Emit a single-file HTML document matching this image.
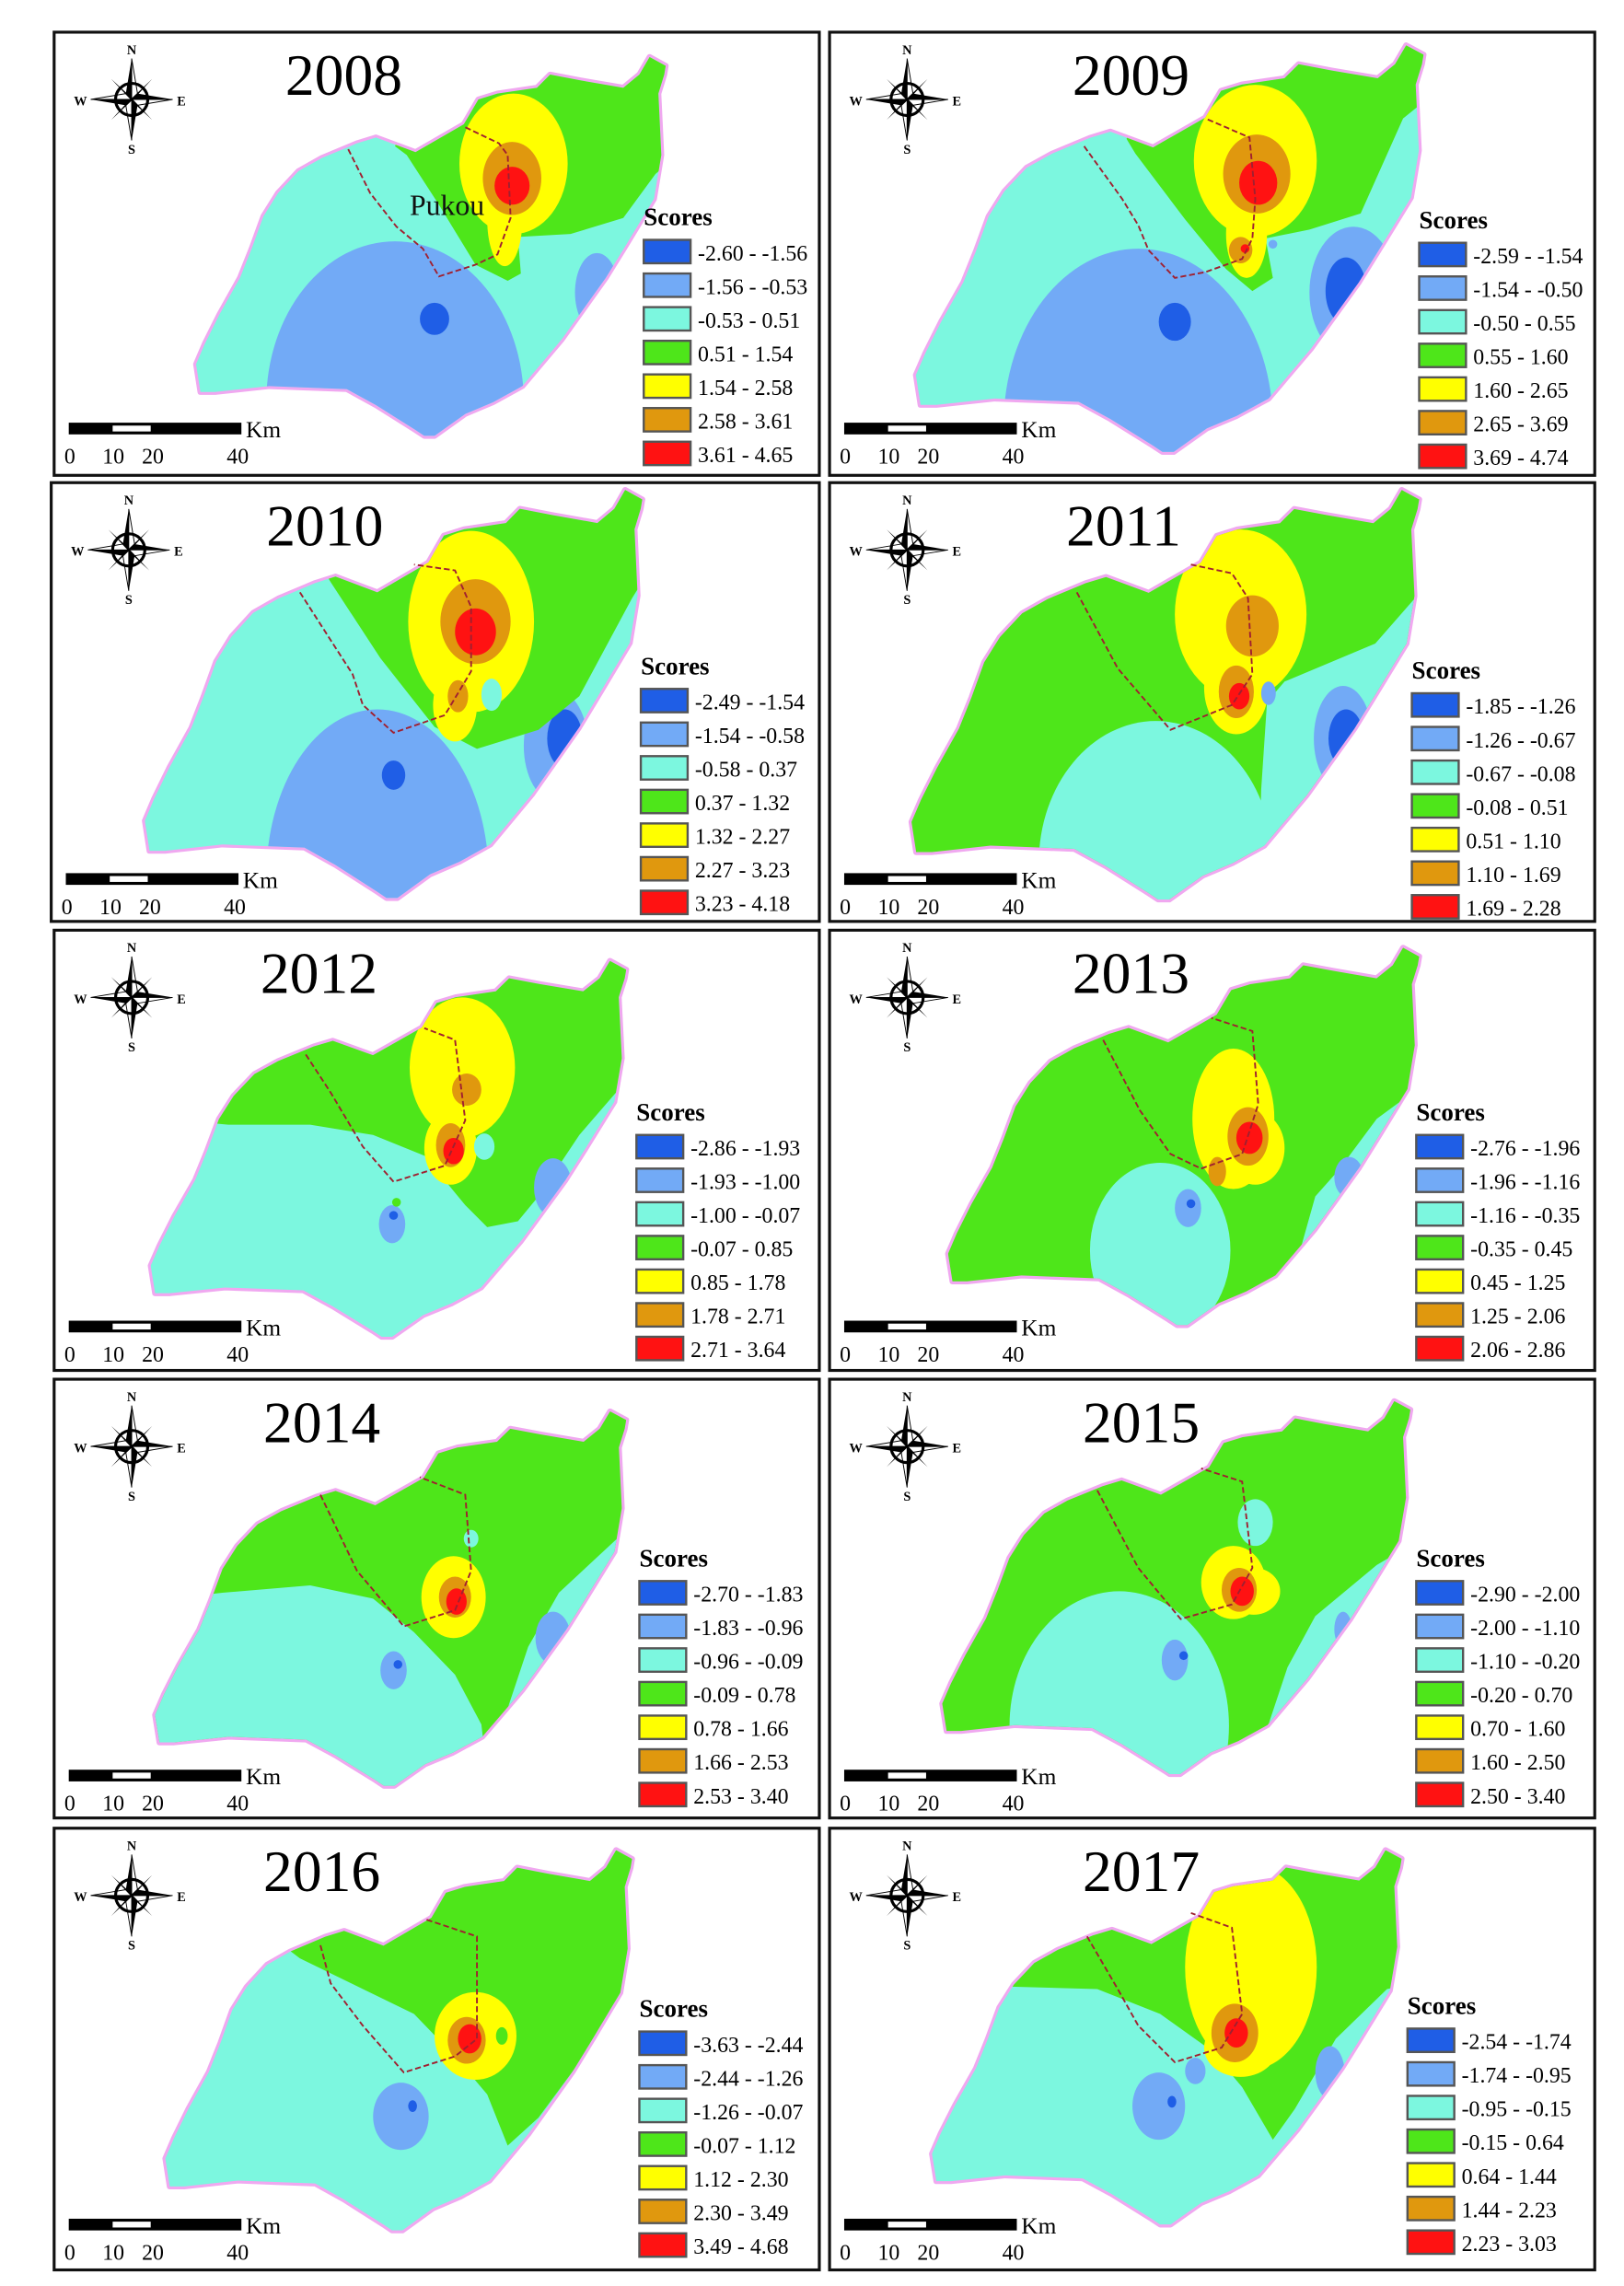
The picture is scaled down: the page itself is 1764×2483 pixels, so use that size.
<!DOCTYPE html>
<html><head><meta charset="utf-8">
<style>
html,body{margin:0;padding:0;background:#fff;}
svg{display:block;}
text{font-family:"Liberation Serif",serif;}
</style></head>
<body>
<svg id="fig" width="1764" height="2483" viewBox="0 0 1110 1563" preserveAspectRatio="none" xmlns="http://www.w3.org/2000/svg">
<defs id="defs"></defs>
</svg>
<script>
const years=["2008","2009","2010","2011","2012","2013","2014","2015","2016","2017"];
const legend2008=["-2.60 - -1.56","-1.56 - -0.53","-0.53 - 0.51","0.51 - 1.54","1.54 - 2.58","2.58 - 3.61","3.61 - 4.65"];
const legend2009=["-2.59 - -1.54","-1.54 - -0.50","-0.50 - 0.55","0.55 - 1.60","1.60 - 2.65","2.65 - 3.69","3.69 - 4.74"];
const legend2010=["-2.49 - -1.54","-1.54 - -0.58","-0.58 - 0.37","0.37 - 1.32","1.32 - 2.27","2.27 - 3.23","3.23 - 4.18"];
const legend2011=["-1.85 - -1.26","-1.26 - -0.67","-0.67 - -0.08","-0.08 - 0.51","0.51 - 1.10","1.10 - 1.69","1.69 - 2.28"];
const legend2012=["-2.86 - -1.93","-1.93 - -1.00","-1.00 - -0.07","-0.07 - 0.85","0.85 - 1.78","1.78 - 2.71","2.71 - 3.64"];
const legend2013=["-2.76 - -1.96","-1.96 - -1.16","-1.16 - -0.35","-0.35 - 0.45","0.45 - 1.25","1.25 - 2.06","2.06 - 2.86"];
const legend2014=["-2.70 - -1.83","-1.83 - -0.96","-0.96 - -0.09","-0.09 - 0.78","0.78 - 1.66","1.66 - 2.53","2.53 - 3.40"];
const legend2015=["-2.90 - -2.00","-2.00 - -1.10","-1.10 - -0.20","-0.20 - 0.70","0.70 - 1.60","1.60 - 2.50","2.50 - 3.40"];
const legend2016=["-3.63 - -2.44","-2.44 - -1.26","-1.26 - -0.07","-0.07 - 1.12","1.12 - 2.30","2.30 - 3.49","3.49 - 4.68"];
const legend2017=["-2.54 - -1.74","-1.74 - -0.95","-0.95 - -0.15","-0.15 - 0.64","0.64 - 1.44","1.44 - 2.23","2.23 - 3.03"];
const legends=[legend2008,legend2009,legend2010,legend2011,legend2012,legend2013,legend2014,legend2015,legend2016,legend2017];
const scaleLabels=["0","10","20","40"];
const C={db:"#1f5ee6",lb:"#72aaf6",cy:"#7cf7df",gr:"#4ee61a",ye:"#ffff00",or:"#e0980e",re:"#ff1212"};
const classColors=[C.db,C.lb,C.cy,C.gr,C.ye,C.or,C.re];

const outlineAbs=[[134,249],[137,268],[147,268],[184,264],[237,266],[257,277],[284,294],[290,298],[297,298],[318,283],[337,275],[357,264],[384,232],[414,190],[427,169],[447,136],[452,106],[450,64],[454,51],[455,45],[444,39],[437,51],[426,60],[397,55],[376,51],[367,60],[340,64],[327,68],[317,85],[284,104],[257,94],[244,98],[220,108],[204,117],[190,132],[180,148],[172,170],[164,190],[150,215],[140,235]];

const panels=[
 {x:37,y:22,w:523,h:303,bb:[134,39,321,259],tx:235,lx:440,ly:148,base:C.cy,pukou:[280,147],
  bd:"238,102 253,132 271,155 289,170 300,189 325,181 340,174 349,149 347,106 341,98 318,87",z:[
  ["e",C.lb,270,275,88,110],["e",C.db,297,218,10,11],["e",C.lb,408,200,15,27],
  ["p",C.gr,"270,100 278,106 300,140 325,181 347,192 356,187 354,162 390,160 426,149 448,119 470,100 470,20 300,20"],
  ["e",C.ye,351,112,37,48],["e",C.ye,345,150,12,32],["e",C.or,350,122,20,25],["e",C.re,350,127,12,13]]},
 {x:567,y:22,w:523,h:303,bb:[626,31,347,278],tx:773,lx:970,ly:150,base:C.cy,
  bd:"741,100 767,136 778,154 785,171 803,190 824,186 849,177 856,163 858,136 854,94 824,81",z:[
  ["e",C.lb,778,290,92,120],["e",C.db,803,220,11,13],["e",C.lb,925,200,30,45],["e",C.db,920,199,14,23],
  ["p",C.gr,"770,95 776,105 810,150 838,184 856,199 870,190 865,163 895,157 930,146 959,81 985,60 985,10 800,10"],
  ["e",C.ye,858,110,42,52],["e",C.ye,852,160,14,30],["e",C.or,859,119,23,27],["e",C.or,848,171,8,9],["e",C.re,860,125,13,15],["e",C.re,851,170,3,3],["e",C.lb,870,167,3,3]]},
 {x:35,y:330,w:525,h:300,bb:[99,335,340,279],tx:222,lx:438,ly:455,base:C.cy,
  bd:"205,405 241,461 248,482 269,501 304,489 322,459 322,415 311,390 283,386",z:[
  ["e",C.lb,258,600,76,115],["e",C.db,269,530,8,10],["e",C.lb,380,510,22,38],["e",C.db,386,505,12,20],
  ["p",C.gr,"215,380 226,398 260,450 297,497 326,512 368,499 396,476 432,409 450,380 450,320 300,320"],
  ["e",C.ye,322,425,43,62],["e",C.ye,311,482,15,25],["e",C.or,325,425,24,29],["e",C.or,313,476,7,11],["e",C.re,325,432,14,16],["e",C.cy,336,475,7,11]]},
 {x:567,y:330,w:523,h:300,bb:[623,335,347,280],tx:768,lx:965,ly:458,base:C.gr,
  bd:"736,405 764,457 800,499 842,482 856,461 853,409 842,392 814,386",z:[
  ["e",C.cy,790,590,80,97],
  ["p",C.cy,"975,400 940,440 878,466 866,480 862,540 860,620 990,620"],
  ["e",C.lb,918,505,20,36],["e",C.db,920,505,12,20],
  ["e",C.ye,848,420,45,58],["e",C.ye,845,470,22,32],["e",C.or,856,428,18,21],["e",C.or,845,473,12,18],["e",C.re,847,476,7,9],["e",C.lb,867,474,5,8]]},
 {x:37,y:636,w:523,h:301,bb:[103,657,325,257],tx:218,lx:435,ly:760,base:C.cy,
  bd:"209,721 226,747 248,784 269,808 304,797 318,766 311,711 290,703",z:[
  ["p",C.gr,"100,740 145,768 156,769 212,769 255,776 297,793 304,807 318,824 333,839 354,835 368,818 396,776 421,747 440,740 440,640 100,640"],
  ["e",C.lb,378,812,13,20],
  ["e",C.ye,316,730,36,48],["e",C.ye,308,785,18,25],["e",C.or,319,745,10,11],["e",C.or,308,783,10,15],["e",C.re,310,787,7,9],["e",C.cy,331,784,7,9],
  ["e",C.lb,268,837,9,13],["e",C.db,269,831,3,3],["e",C.gr,271,822,3,3]]},
 {x:567,y:636,w:523,h:301,bb:[648,648,322,258],tx:773,lx:968,ly:760,base:C.gr,
  bd:"754,711 779,759 800,789 821,799 849,789 860,755 856,705 828,696",z:[
  ["e",C.cy,793,855,48,60],
  ["p",C.cy,"975,740 941,765 915,800 899,818 890,850 880,880 878,920 985,920"],
  ["e",C.lb,922,805,10,14],["e",C.lb,812,826,9,13],["e",C.db,814,823,3,3],
  ["e",C.ye,843,765,28,48],["e",C.ye,858,785,20,25],["e",C.or,853,777,14,20],["e",C.or,832,801,6,10],["e",C.re,854,778,9,11]]},
 {x:37,y:943,w:523,h:300,bb:[106,965,322,256],tx:220,lx:437,ly:1065,base:C.gr,
  bd:"219,1022 244,1074 276,1112 311,1101 322,1074 318,1022 287,1010",z:[
  ["p",C.cy,"100,1095 152,1089 212,1084 255,1093 283,1116 311,1145 329,1179 335,1230 100,1230"],
  ["p",C.cy,"440,1040 425,1049 382,1089 361,1126 347,1168 340,1230 440,1230"],
  ["e",C.lb,378,1120,12,18],["e",C.lb,269,1142,9,13],["e",C.db,272,1138,3,3],
  ["e",C.ye,310,1092,22,28],["e",C.or,311,1092,11,14],["e",C.re,312,1095,7,9],["e",C.cy,322,1052,5,6]]},
 {x:567,y:943,w:523,h:300,bb:[644,958,320,255],tx:780,lx:968,ly:1065,base:C.gr,
  bd:"750,1019 778,1072 807,1107 842,1097 856,1072 849,1013 821,1004",z:[
  ["e",C.cy,765,1180,75,92],
  ["p",C.cy,"975,1050 941,1070 899,1105 880,1140 867,1179 865,1230 975,1230"],
  ["e",C.lb,918,1114,6,12],["e",C.lb,803,1135,9,14],["e",C.db,809,1132,3,3],
  ["e",C.cy,858,1041,12,16],
  ["e",C.ye,843,1082,22,25],["e",C.ye,857,1088,18,16],["e",C.or,847,1087,12,15],["e",C.re,849,1088,8,10]]},
 {x:37,y:1250,w:523,h:302,bb:[113,1265,319,260],tx:220,lx:437,ly:1373,base:C.cy,
  bd:"219,1330 226,1356 248,1385 276,1417 311,1406 326,1394 326,1324 290,1312",z:[
  ["p",C.gr,"180,1320 205,1339 283,1377 311,1406 333,1432 347,1467 368,1448 396,1410 432,1356 450,1350 450,1250 180,1250"],
  ["e",C.ye,325,1392,28,30],["e",C.or,319,1395,13,16],["e",C.re,321,1394,8,10],["e",C.gr,343,1392,4,6],
  ["e",C.lb,274,1447,19,23],["e",C.db,282,1440,3,4]]},
 {x:567,y:1250,w:523,h:302,bb:[637,1265,321,256],tx:780,lx:962,ly:1371,base:C.cy,
  bd:"743,1324 764,1360 778,1385 803,1410 835,1400 849,1377 842,1318 814,1308",z:[
  ["p",C.gr,"600,1360 679,1358 750,1360 793,1377 828,1402 849,1427 870,1463 885,1442 913,1394 948,1360 970,1355 970,1250 600,1250"],
  ["e",C.ye,855,1345,45,70],["e",C.ye,848,1400,25,20],["e",C.or,844,1390,16,20],["e",C.re,845,1390,8,10],
  ["e",C.lb,792,1440,18,23],["e",C.lb,817,1416,7,9],["e",C.db,801,1437,3,4],["e",C.lb,909,1417,10,18]]}
];

const NS="http://www.w3.org/2000/svg";
const svg=document.getElementById("fig");
const defs=document.getElementById("defs");
function mk(tag,attrs,parent){const e=document.createElementNS(NS,tag);for(const k in attrs)e.setAttribute(k,attrs[k]);(parent||svg).appendChild(e);return e;}
const scaleOffsets=[-3,23,50,108];

panels.forEach((P,i)=>{
  const [bx0,by0,bw,bh]=P.bb;
  const pts=outlineAbs.map(p=>[(bx0+(p[0]-134)*bw/321).toFixed(1),(by0+(p[1]-39)*bh/259).toFixed(1)].join(",")).join(" ");
  const cp=mk("clipPath",{id:"clip"+i},defs);
  mk("polygon",{points:pts},cp);
  const g=mk("g",{});
  
  
  const frame=mk("rect",{x:P.x,y:P.y,width:P.w,height:P.h,fill:"#fff",stroke:"#111","stroke-width":2},g);
  
  
  const mg=mk("g",{},g);
  
  
  const halo=mk("polygon",{points:pts,fill:"none",stroke:"#f0a8f0","stroke-width":4,"stroke-linejoin":"round"},mg);
  
  
  const cg=mk("g",{"clip-path":"url(#clip"+i+")"},mg);
  const bg=mk("rect",{x:P.x,y:P.y,width:P.w,height:P.h,fill:P.base},cg);
  
  
  P.z.forEach(z=>{
    let el;
    if(z[0]==="e") el=mk("ellipse",{cx:z[2],cy:z[3],rx:z[4],ry:z[5],fill:z[1]},cg);
    else el=mk("polygon",{points:z[2],fill:z[1],"stroke-linejoin":"round"},cg);
    
    
  });
  const b=mk("polyline",{points:P.bd,fill:"none",stroke:"#a02030","stroke-width":1.2,"stroke-dasharray":"4 2"},mg);
  
  
  if(P.pukou){const t=mk("text",{x:P.pukou[0],y:P.pukou[1],"font-size":20,fill:"#111"},mg);t.textContent="Pukou";
    
    }
  const tt=mk("text",{x:P.tx,y:P.y+43,"font-size":40,"text-anchor":"middle",fill:"#000"},g);
  tt.textContent=years[i];
  
  
  const cx=P.x+53,cy=P.y+46;
  const cpg=mk("g",{transform:`translate(${cx},${cy})`},g);
  
  
  mk("polygon",{points:"0,-28 4,-4 28,0 4,4 0,28 -4,4 -28,0 -4,-4",fill:"#000"},cpg);
  mk("polygon",{points:"0,-28 4,-4 0,0",fill:"#fff",stroke:"#000","stroke-width":0.6},cpg);
  mk("polygon",{points:"28,0 4,4 0,0",fill:"#fff",stroke:"#000","stroke-width":0.6},cpg);
  mk("polygon",{points:"0,28 -4,4 0,0",fill:"#fff",stroke:"#000","stroke-width":0.6},cpg);
  mk("polygon",{points:"-28,0 -4,-4 0,0",fill:"#fff",stroke:"#000","stroke-width":0.6},cpg);
  mk("polygon",{points:"-14,-14 -2,-3 14,14 2,3",fill:"#000"},cpg);
  mk("polygon",{points:"14,-14 3,-2 -14,14 -3,2",fill:"#000"},cpg);
  mk("circle",{r:11,fill:"none",stroke:"#000","stroke-width":2},cpg);
  [["N",0,-31],["S",0,37],["W",-35,4],["E",34,4]].forEach(d=>{const t=mk("text",{x:d[1],y:d[2],"font-size":9,"font-weight":"bold","text-anchor":"middle","font-family":"Liberation Sans"},cpg);t.textContent=d[0];});
  const sb=mk("g",{},g);
  
  
  const bx=P.x+10,by=P.y+267;
  mk("rect",{x:bx,y:by,width:118,height:8,fill:"#000"},sb);
  mk("rect",{x:bx+30,y:by+2,width:26,height:4,fill:"#fff"},sb);
  const km=mk("text",{x:bx+121,y:by+10,"font-size":16},sb);km.textContent="Km";
  scaleLabels.forEach((s,k)=>{const t=mk("text",{x:bx+scaleOffsets[k],y:by+28,"font-size":15},sb);t.textContent=s;});
  const lg=mk("g",{},g);
  
  
  const st=mk("text",{x:P.lx,y:P.ly+6,"font-size":17,"font-weight":"bold"},lg);st.textContent="Scores";
  legends[i].forEach((lab,k)=>{
    const yy=P.ly+16+k*23;
    const r=mk("rect",{x:P.lx,y:yy,width:32,height:16,fill:classColors[k],stroke:"#555","stroke-width":1.5},lg);
    
    
    const t=mk("text",{x:P.lx+37,y:yy+14,"font-size":15},lg);t.textContent=lab;
    
    
  });
});
</script>
</body></html>
